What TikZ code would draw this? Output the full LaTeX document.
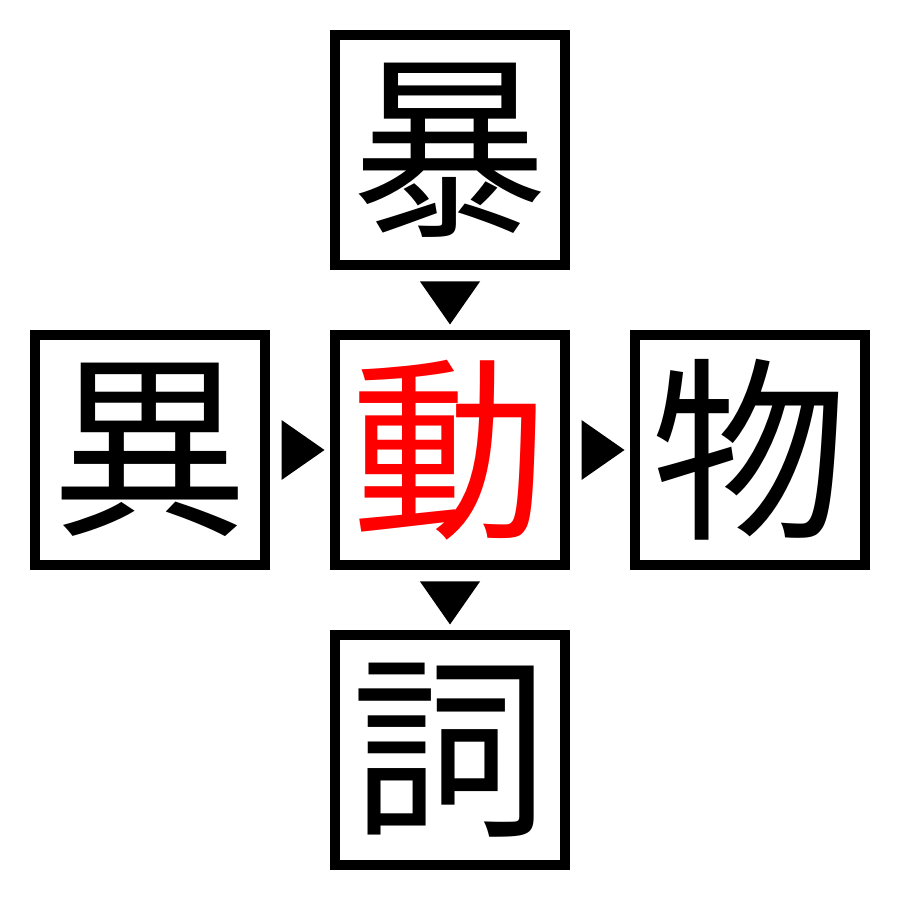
\documentclass[tikz,border=0pt]{standalone}
\usepackage{fontspec}
\newfontfamily\cjk{Noto Sans CJK JP}
\usetikzlibrary{positioning, calc}
\tikzset{
    tri/.pic = {
    \fill (-0.3,0.215) -- (0.3,0.215) -- (0,-0.215) -- cycle;
    },
    kanji/.style={draw, line width=1mm, minimum size=2.3cm, inner sep=0pt,
      font=\cjk\fontsize{56}{56}\selectfont},
}

\begin{document}
\begin{tikzpicture}
    \tikzset{
      node distance=0.6cm
    }
    \useasboundingbox (0,0) rectangle (9,9);

    \node[kanji, text=red] (ka) at (4.5,4.5) {動};
    \node[kanji, above=of ka] (ue) {暴};
    \node[kanji, below=of ka] (shita) {詞};
    \node[kanji, left=of ka] (hidari) {異};
    \node[kanji, right=of ka] (migi) {物};

    \path (ue) -- pic[pos=0.55]{tri} (ka);
    \path (ka) -- pic[pos=0.55]{tri} (shita);
    \path (hidari) -- pic[pos=0.55, rotate=90]{tri} (ka);
    \path (ka) -- pic[pos=0.55, rotate=90]{tri} (migi);
\end{tikzpicture}
\end{document}
